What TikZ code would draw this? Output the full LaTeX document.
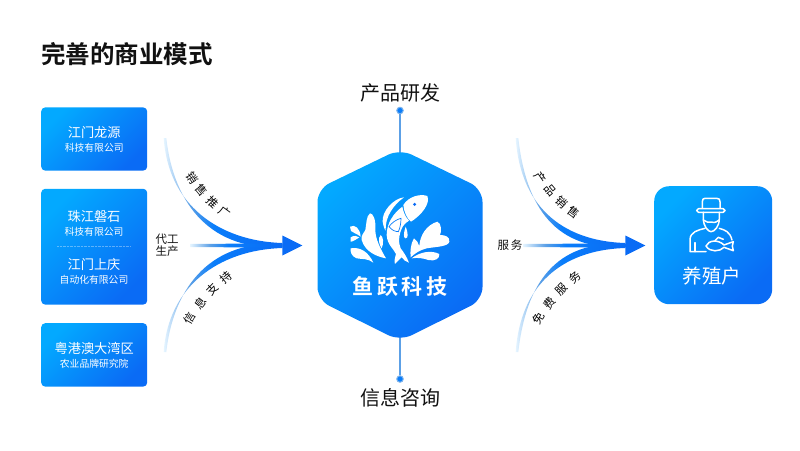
\documentclass[tikz,border=0pt]{standalone}
\usepackage{fontspec}
\setmainfont{Noto Sans CJK SC}[BoldFont=* Bold]
\usetikzlibrary{positioning, shapes.geometric, decorations.text}

\definecolor{skyblue}{HTML}{03A9FF}
\definecolor{midblue}{HTML}{0A7DFA}
\definecolor{deepblue}{HTML}{0A6BF5}
\definecolor{paleblue}{HTML}{E6F5FF}
\definecolor{stemblue}{HTML}{5CA0E6}
\definecolor{inkblack}{HTML}{111111}
\pgfdeclarehorizontalshading{flowfade}{100bp}{
    color(0bp)=(paleblue); color(25bp)=(paleblue); color(36bp)=(stemblue);
    color(46bp)=(midblue); color(75bp)=(deepblue); color(100bp)=(deepblue)
}

\begin{document}
\begin{tikzpicture}[
    x=1pt, y=-1pt,
    text=inkblack,
    node distance=17pt and 17pt,
    % Styles
    grad/.style={
        left color=skyblue, middle color=midblue, right color=deepblue, shading angle=45
    },
    company/.style={
        grad, rounded corners=4pt, minimum width=106pt, inner sep=0pt
    },
    namebox/.style={
        font=\fontsize{13.2}{14}\selectfont, text=white, align=center, inner sep=0pt
    },
    flow/.style={shading=flowfade},
    flowtip/.style={
        isosceles triangle, isosceles triangle stretches, fill=deepblue, inner sep=0pt,
        minimum width=20pt, minimum height=20pt, anchor=apex
    },
    stem/.style={draw=stemblue, line width=1.2pt},
    stemdot/.style={circle, draw=stemblue!80, fill=midblue, line width=1pt, minimum size=6.5pt, inner sep=0pt},
    topic/.style={font=\fontsize{20}{22}\selectfont},
    smalltext/.style={font=\fontsize{11.5}{12.5}\selectfont, align=center, inner sep=0pt},
    along/.style={
        decorate, decoration={text along path, text align={fit to path}, text={|\fontsize{11.5}{12}\selectfont|#1}}
    },
    icon/.style={draw=white, line width=1.5pt, line cap=round, line join=round}
]
    \useasboundingbox (0,0) rectangle (800,450);

    % --- Title ---
    \node[font=\fontsize{24.5}{26}\selectfont\bfseries, anchor=west, inner sep=0pt] (title) at (41,54) {完善的商业模式};

    % --- Partners ---
    \node[company, minimum height=63.2pt, anchor=north west] (longyuan) at (41,107.2) {};
    \node[company, minimum height=115.8pt, below=17.8pt of longyuan] (partners) {};
    \node[company, minimum height=63.4pt, below=18.2pt of partners] (bay) {};

    \def\subname#1{{\fontsize{9.8}{14}\selectfont #1}}
    \node[namebox] (longyuantext) at (longyuan) {江门龙源\\\subname{科技有限公司}};
    \node[namebox] (panshi) at (94,223.5) {珠江磐石\\\subname{科技有限公司}};
    \node[namebox] (shangqing) at (94,271) {江门上庆\\\subname{自动化有限公司}};
    \node[namebox] (baytext) at (bay) {粤港澳大湾区\\\subname{农业品牌研究院}};
    \coordinate (splitl) at (57,246.5);
    \coordinate (splitr) at (130,246.5);
    \draw[white, opacity=0.35, line width=0.4pt, densely dotted] (splitl) -- (splitr);

    % --- Research and consulting ---
    \coordinate (hextop) at (400,149);
    \coordinate (hexbottom) at (400,341);
    \node[topic] (research) at (400,93) {产品研发};
    \node[topic] (consult) at (400,398) {信息咨询};
    \node[stemdot] (dottop) at (400,110.5) {};
    \node[stemdot] (dotbottom) at (400,379) {};
    \draw[stem] (dottop) -- ([yshift=-8pt]hextop);
    \draw[stem] (dotbottom) -- ([yshift=8pt]hexbottom);

    % --- Company ---
    \shade[grad, rounded corners=13pt] (hextop) -- (482.5,189) -- (482.5,300) -- (hexbottom) -- (317.5,300) -- (317.5,189) -- cycle;
    \node[font=\fontsize{21}{22}\selectfont\bfseries, text=white, inner sep=0pt] (brand) at (400,287) {鱼\,跃\,科\,技};

    % logo
    \begin{scope}[shift={(340,180)}, x=0.3333pt, y=-0.3333pt]
        \fill[white] (190,75) .. controls (205,50) and (240,40) .. (262,48) .. controls (272,70) and (245,105) .. (213,125) .. controls (200,115) and (192,95) .. cycle;
        \fill[deepblue] (224,73) circle (5);
        \fill[white] (192,52) .. controls (160,55) and (125,95) .. (128,125) .. controls (130,140) and (135,150) .. (137,152) .. controls (135,110) and (160,75) .. cycle;
        \fill[white] (187,80) .. controls (160,100) and (140,130) .. (140,165) .. controls (142,195) and (160,205) .. (168,222) .. controls (165,232) and (162,245) .. (165,252) .. controls (172,245) and (178,238) .. (185,232) .. controls (190,240) and (198,245) .. (207,248) .. controls (200,230) and (190,215) .. (182,205) .. controls (175,190) and (175,165) .. (188,140) .. controls (195,130) and (202,125) .. (207,122) .. controls (195,110) and (190,95) .. cycle;
        \draw[midblue, fill=white, line width=0.7pt] (147,140) .. controls (155,128) and (170,118) .. (183,115) .. controls (183,130) and (180,145) .. (175,155) .. controls (165,155) and (155,150) .. cycle;
        \fill[white] (197,140) .. controls (205,160) and (205,175) .. (197,175) .. controls (190,175) and (190,160) .. cycle;
        \fill[white] (90,100) .. controls (100,100) and (108,120) .. (106,150) .. controls (106,175) and (120,205) .. (138,235) .. controls (110,230) and (75,215) .. (65,180) .. controls (62,165) and (72,160) .. (76,150) .. controls (80,130) and (78,110) .. cycle;
        \fill[white] (32,205) .. controls (60,200) and (85,215) .. (100,248) .. controls (85,235) and (65,238) .. (50,235) .. controls (35,230) and (30,215) .. cycle;
        \fill[white] (30,140) .. controls (45,132) and (60,145) .. (62,170) .. controls (50,160) and (40,160) .. (33,153) -- cycle;
        \fill[white] (32,172) .. controls (42,165) and (52,168) .. (58,172) .. controls (48,178) and (40,185) .. (32,185) -- cycle;
        \fill[white] (122,165) .. controls (130,170) and (132,190) .. (125,205) .. controls (118,195) and (112,175) .. cycle;
        \fill[white] (292,125) .. controls (305,130) and (305,155) .. (300,165) .. controls (315,165) and (330,170) .. (328,185) .. controls (325,200) and (290,200) .. (260,205) .. controls (240,210) and (225,220) .. (212,232) .. controls (210,215) and (212,190) .. (222,175) .. controls (230,180) and (235,190) .. (238,198) .. controls (240,165) and (260,135) .. cycle;
        \fill[white] (215,235) .. controls (240,215) and (275,210) .. (298,222) .. controls (300,235) and (285,245) .. (265,240) .. controls (250,235) and (235,232) .. cycle;
    \end{scope}

    % --- Farmer ---
    \node[company, rounded corners=15pt, minimum width=118pt, minimum height=118pt, anchor=north west] (farmer) at (654,186) {};
    \node[font=\fontsize{19.5}{20}\selectfont, text=white, inner sep=0pt] (farmertext) at (712,276) {养殖户};
    \begin{scope}[shift={(670,190)}, x=0.3333pt, y=-0.3333pt]
        \draw[icon] (97,55) -- (97,35) .. controls (97,28) and (100,25) .. (105,25) -- (140,25) .. controls (147,25) and (150,28) .. (150,35) -- (150,55);
        \draw[icon, rounded corners=1.8pt] (80,56) rectangle (165,67);
        \draw[icon] (100,67) -- (100,85) .. controls (100,110) and (115,125) .. (123,125) .. controls (133,125) and (148,110) .. (148,85) -- (148,67);
        \draw[icon] (100,90) .. controls (110,95) and (115,100) .. (124,96) .. controls (135,100) and (140,95) .. (148,90);
        \draw[icon] (105,115) .. controls (85,120) and (60,125) .. (60,150) -- (60,185) -- (108,185);
        \draw[icon] (148,115) .. controls (165,120) and (180,125) .. (186,150);
        \draw[icon] (75,158) -- (75,185);
        \draw[icon] (108,168) .. controls (115,150) and (145,148) .. (162,165) -- (190,155) -- (187,168) -- (190,182) -- (162,172) .. controls (150,185) and (120,188) .. cycle;
        \draw[icon] (135,152) -- (145,142) -- (160,148);
    \end{scope}

    % --- Flows into the company ---
    \node[flowtip] (tipin) at (303,245.5) {};
    \coordinate (intop) at (165,138);
    \coordinate (inmid) at (190,245.5);
    \coordinate (inbottom) at (165,352);
    \shade[flow] ([xshift=-1.3pt]intop) .. controls (168,204) and (218,241) .. ([yshift=2.5pt]tipin.lower side) -- ([yshift=-1.5pt]tipin.lower side) .. controls (213,251) and (174,207) .. ([xshift=1.3pt]intop) -- cycle;
    \shade[flow] ([xshift=-1.3pt]inbottom) .. controls (168,287) and (218,250) .. ([yshift=-2.5pt]tipin.lower side) -- ([yshift=1.5pt]tipin.lower side) .. controls (213,240) and (174,284) .. ([xshift=1.3pt]inbottom) -- cycle;
    \shade[flow] ([yshift=1.6pt]inmid) -- ([yshift=2pt]tipin.lower side) -- ([yshift=-2pt]tipin.lower side) -- ([yshift=-1.6pt]inmid) -- cycle;

    \coordinate (salesa) at (186,175);
    \coordinate (salesb) at (227,219);
    \coordinate (infoa) at (191,326);
    \coordinate (infob) at (233,277);
    \path[along=销售推广] (salesa) .. controls (196,192) and (210,208) .. (salesb);
    \path[along=信息支持] (infoa) .. controls (199,310) and (214,292) .. (infob);
    \node[smalltext] (oem) at (167,245) {代工\\生产};

    % --- Flows into the farmer ---
    \node[flowtip] (tipout) at (646,245.5) {};
    \coordinate (outtop) at (517,138);
    \coordinate (outmid) at (523,245.5);
    \coordinate (outbottom) at (517,352);
    \shade[flow] ([xshift=-1.3pt]outtop) .. controls (520,204) and (560,241) .. ([yshift=2.5pt]tipout.lower side) -- ([yshift=-1.5pt]tipout.lower side) .. controls (555,251) and (526,207) .. ([xshift=1.3pt]outtop) -- cycle;
    \shade[flow] ([xshift=-1.3pt]outbottom) .. controls (520,287) and (560,250) .. ([yshift=-2.5pt]tipout.lower side) -- ([yshift=1.5pt]tipout.lower side) .. controls (555,240) and (526,284) .. ([xshift=1.3pt]outbottom) -- cycle;
    \shade[flow] ([yshift=1.6pt]outmid) -- ([yshift=2pt]tipout.lower side) -- ([yshift=-2pt]tipout.lower side) -- ([yshift=-1.6pt]outmid) -- cycle;

    \coordinate (goodsa) at (534,175);
    \coordinate (goodsb) at (576,219);
    \coordinate (freea) at (540,326);
    \coordinate (freeb) at (582,277);
    \path[along=产品销售] (goodsa) .. controls (545,192) and (559,208) .. (goodsb);
    \path[along=免费服务] (freea) .. controls (548,310) and (563,292) .. (freeb);
    \node[smalltext] (service) at (510,245) {服\,务};
\end{tikzpicture}
\end{document}
